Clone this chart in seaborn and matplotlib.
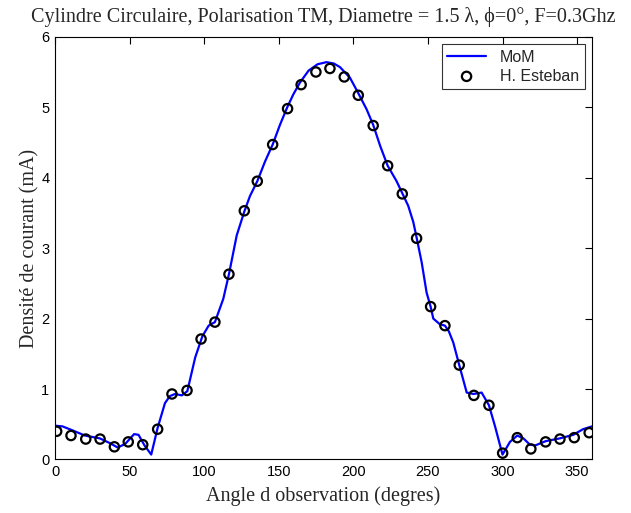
import matplotlib
matplotlib.use("Agg")
import matplotlib.pyplot as plt
import seaborn as sns
import pandas as pd

# MoM curve (angle in degrees, current density in mA)
mom_angle = [0, 5, 11, 20, 30, 37, 42, 47, 53, 56, 60, 64.5, 68.8, 73.7, 77, 80.5, 85, 88.7,
             94, 98.8, 103, 107.2, 112.8, 116.6, 121.8, 126.9, 130.7, 135.6, 140.8, 145.9,
             150.8, 155.7, 159.7, 164.2, 170, 176, 182, 187, 191, 197.7, 203.3, 208.9, 213.3,
             218, 223, 229, 232.8, 236.8, 240.2, 242.4, 245.8, 249.1, 251.8, 253.6, 258, 261.4,
             264, 267, 271, 276, 280.5, 286, 290.9, 295, 300, 305, 309.9, 314, 318.4, 322,
             328.9, 338.5, 347.4, 354, 360]
mom_current = [0.48, 0.47, 0.42, 0.34, 0.30, 0.23, 0.17, 0.22, 0.36, 0.35, 0.20, 0.07, 0.45,
               0.80, 0.90, 0.93, 0.91, 0.97, 1.45, 1.75, 1.90, 1.95, 2.28, 2.63, 3.18, 3.52,
               3.74, 3.95, 4.23, 4.47, 4.75, 5.00, 5.18, 5.35, 5.52, 5.61, 5.64, 5.62, 5.57,
               5.42, 5.20, 4.97, 4.75, 4.45, 4.17, 3.95, 3.78, 3.60, 3.37, 3.15, 2.80, 2.37,
               2.17, 2.00, 1.92, 1.90, 1.82, 1.66, 1.34, 0.95, 0.93, 0.95, 0.77, 0.47, 0.07,
               0.25, 0.34, 0.30, 0.21, 0.20, 0.26, 0.30, 0.35, 0.43, 0.47]

# H. Esteban reference points
est_angle = [1.1, 10.7, 20.6, 30.2, 39.8, 49.1, 58.8, 68.8, 78.4, 88.5, 97.9, 107.2, 116.6,
             126.9, 135.6, 145.9, 155.9, 165.0, 174.9, 184.3, 193.9, 203.3, 213.3, 223.0,
             232.8, 242.4, 251.8, 261.4, 271.0, 280.8, 290.9, 300.1, 309.9, 319.0, 328.9,
             338.5, 348.1, 358.1]
est_current = [0.40, 0.34, 0.29, 0.29, 0.18, 0.25, 0.21, 0.43, 0.93, 0.98, 1.71, 1.95, 2.63,
               3.53, 3.95, 4.47, 4.98, 5.32, 5.50, 5.55, 5.43, 5.17, 4.74, 4.17, 3.77, 3.14,
               2.17, 1.90, 1.34, 0.91, 0.77, 0.09, 0.31, 0.15, 0.25, 0.29, 0.31, 0.38]

x_ticks = [0, 50, 100, 150, 200, 250, 300, 350]
y_ticks = [0, 1, 2, 3, 4, 5, 6]

title = "Cylindre Circulaire, Polarisation TM, Diametre = 1.5 λ, ϕ=0°, F=0.3Ghz"
xlabel = "Angle d observation (degres)"
ylabel = "Densité de courant (mA)"

sns.set_style("white")
plt.rcParams["font.family"] = ["Liberation Sans", "DejaVu Sans"]

mom = pd.DataFrame({"angle": mom_angle, "current": mom_current})
est = pd.DataFrame({"angle": est_angle, "current": est_current})

fig = plt.figure(figsize=(6.31, 5.13), dpi=100)
ax = fig.add_axes([0.0872, 0.1043, 0.851, 0.824])

sns.lineplot(data=mom, x="angle", y="current", ax=ax, color="#0000ff", linewidth=1.6,
             label="MoM", sort=False)
sns.scatterplot(data=est, x="angle", y="current", ax=ax, marker="o", s=45,
                facecolor="none", edgecolor="black", linewidth=1.6, label="H. Esteban",
                zorder=3)

ax.set_xlim(0, 360)
ax.set_ylim(0, 6)
ax.set_xticks(x_ticks)
ax.set_yticks(y_ticks)
ax.tick_params(direction="in", top=True, right=True, length=5, width=0.8,
               labelsize=10.5, colors="black", pad=4)
for s in ax.spines.values():
    s.set_color("black")
    s.set_linewidth(0.8)

serif = ["Liberation Serif", "DejaVu Serif"]
ax.set_title(title, family=serif, fontsize=14.5, pad=11)
ax.set_xlabel(xlabel, family=serif, fontsize=14.5, labelpad=5)
ax.set_ylabel(ylabel, family=serif, fontsize=14.5, labelpad=1)

leg = ax.legend(loc="upper right", fontsize=11.5, frameon=True, fancybox=False,
                edgecolor="black", borderaxespad=0.45, handlelength=2.4,
                handletextpad=0.9, borderpad=0.35, labelspacing=0.25)
leg.get_frame().set_linewidth(0.8)

fig.savefig("out.png", dpi=100)
